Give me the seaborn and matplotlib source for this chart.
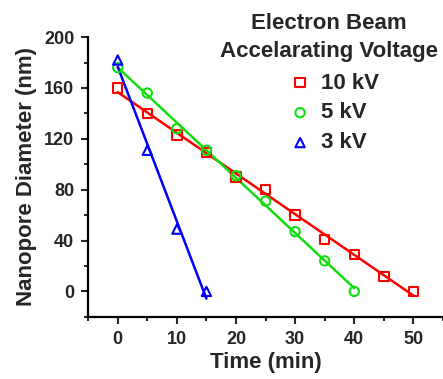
import numpy as np
import pandas as pd
import matplotlib
matplotlib.use("Agg")
import matplotlib.pyplot as plt
from matplotlib.ticker import MultipleLocator
import seaborn as sns

# nanopore shrinking under e-beam
time_10kv = [0, 5, 10, 15, 20, 25, 30, 35, 40, 45, 50]
diam_10kv = [160, 140, 123, 109, 90, 80, 60, 41, 29, 12, 0]
time_5kv = [0, 5, 10, 15, 20, 25, 30, 35, 40]
diam_5kv = [176, 156, 128, 111, 91, 71, 47, 24, 0]
time_3kv = [0, 5, 10, 15]
diam_3kv = [182, 111, 49, 0]

labels = ["10 kV", "5 kV", "3 kV"]
colors = ["#ff0000", "#11dd11", "#0000ff"]
markers = ["s", "o", "^"]

series = [(time_10kv, diam_10kv), (time_5kv, diam_5kv), (time_3kv, diam_3kv)]

sns.set_style("ticks")
plt.rcParams["font.family"] = ["Liberation Sans", "DejaVu Sans"]
plt.rcParams["font.weight"] = "bold"

fig = plt.figure(figsize=(4.43, 3.79), dpi=100)
ax = fig.add_axes([0.199, 0.164, 0.801, 0.738])

for (t, d), lab, col, mk in zip(series, labels, colors, markers):
    df = pd.DataFrame({"t": t, "d": d})
    # linear fit over the measured range
    k, b = np.polyfit(df["t"], df["d"], 1)
    fit = pd.DataFrame({"t": [df["t"].min(), df["t"].max()]})
    fit["d"] = k * fit["t"] + b
    sns.lineplot(data=fit, x="t", y="d", color=col, lw=1.8, ax=ax,
                 legend=False, zorder=2)
    sns.scatterplot(data=df, x="t", y="d", ax=ax, marker=mk, s=45,
                    facecolor="none", edgecolor=col, linewidth=1.5,
                    label=lab, zorder=3)

ax.set_xlim(-5, 55)
ax.set_ylim(-20, 200)
ax.xaxis.set_major_locator(MultipleLocator(10))
ax.xaxis.set_minor_locator(MultipleLocator(5))
ax.yaxis.set_major_locator(MultipleLocator(40))
ax.yaxis.set_minor_locator(MultipleLocator(20))
ax.tick_params(which="major", direction="out", length=5, width=1.5,
               labelsize=13, pad=5)
ax.tick_params(which="minor", direction="out", length=3, width=1.5)
for s in ["top", "right"]:
    ax.spines[s].set_visible(False)
for s in ["left", "bottom"]:
    ax.spines[s].set_linewidth(1.6)
    ax.spines[s].set_color("black")

ax.set_xlabel("Time (min)", fontsize=16, fontweight="bold", labelpad=3)
ax.set_ylabel("Nanopore Diameter (nm)", fontsize=16, fontweight="bold",
              labelpad=5)

# legend title drawn separately so the gap above the entries can be set
fig.text(0.743, 1 - 13 / 379, "Electron Beam\nAccelarating Voltage",
         ha="center", va="top", fontsize=16, fontweight="bold",
         linespacing=1.45)
leg = ax.legend(frameon=False, loc="center left",
                bbox_to_anchor=(289 / 443, 1 - 113 / 379),
                bbox_transform=fig.transFigure, fontsize=16,
                handlelength=1.0, handletextpad=0.45, labelspacing=0.4,
                borderaxespad=0, borderpad=0)

fig.savefig("out.png", dpi=100)
